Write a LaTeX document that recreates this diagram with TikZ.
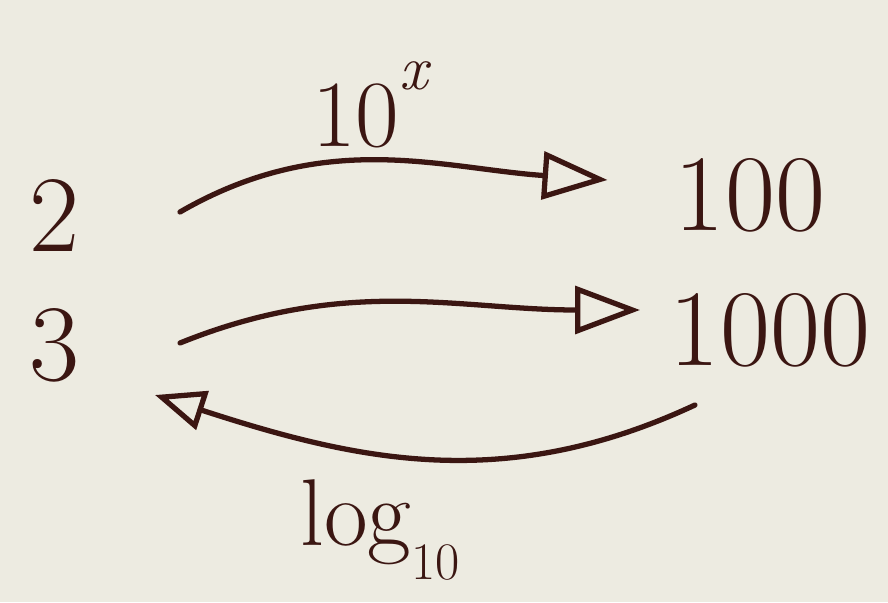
\documentclass[tikz,border=0pt]{standalone}
\usepackage{fontspec}
\usetikzlibrary{arrows.meta}

\begin{document}
\begin{tikzpicture}[x=1cm,y=1cm]
\definecolor{paper}{HTML}{EDEBE1}
\definecolor{ink}{HTML}{3B1612}
\tikzset{
  num/.style={text=ink,inner sep=0pt,font=\fontsize{62}{62}\selectfont},
  lbl/.style={text=ink,inner sep=0pt,font=\fontsize{54}{54}\selectfont},
  arr/.style={draw=ink,line width=3pt,line cap=round,
    -{Triangle[open,length=1.3cm,width=0.95cm,line width=3pt]}},
  backarr/.style={arr,-{Triangle[open,length=1.0cm,width=0.8cm,line width=3pt]}}
}

% paper
\fill[paper] (0,0) rectangle (17.76,-12.04);
\useasboundingbox (0,0) rectangle (17.76,-12.04);

% numbers on both sides
\node[num] (two) at (1.1,-4.3) {2};
\node[num] (three) at (1.1,-6.9) {3};
\node[num] (hundred) at (15.0,-3.9) {100};
\node[num] (thousand) at (15.4,-6.6) {1000};

% labels of the maps
\node[lbl] (tenx) at (7.4,-2.1)
  {10\raisebox{0.6em}{\fontsize{36}{36}\selectfont\itshape x}};
\node[lbl] (logten) at (7.6,-10.6)
  {log\raisebox{-0.35em}{\fontsize{30}{30}\selectfont 10}};

% 10^x forward, log back
\draw[arr] ([shift={(2.5,0.06)}]two.center) to[out=30,in=176]
  ([shift={(-2.85,0.3)}]hundred.center);
\draw[arr] ([shift={(2.5,0.04)}]three.center) to[out=22,in=180]
  ([shift={(-2.6,0.4)}]thousand.center);
\draw[backarr] ([shift={(-1.5,-1.5)}]thousand.center) to[out=-155,in=-18]
  ([shift={(2.0,-1.0)}]three.center);
\end{tikzpicture}
\end{document}
